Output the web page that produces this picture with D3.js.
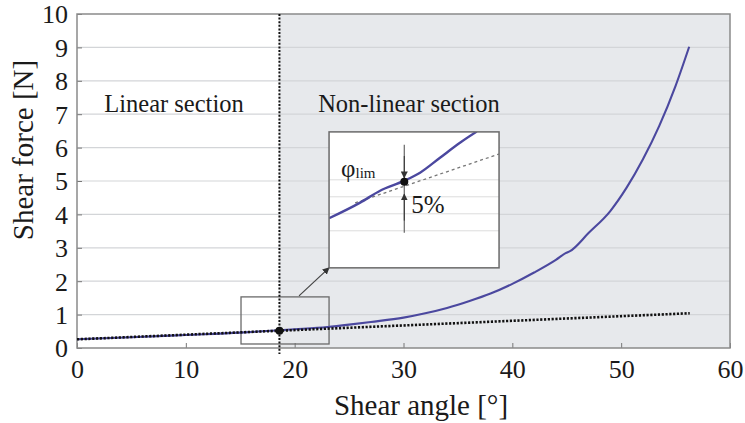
<!DOCTYPE html>
<html>
<head>
<meta charset="utf-8">
<script src="https://cdn.jsdelivr.net/npm/d3@7"></script>
<style>
  html, body { margin: 0; padding: 0; background: #fff; }
  svg { display: block; }
  text { font-family: "Liberation Serif", "Times New Roman", serif; fill: #1a1a1a; }
</style>
</head>
<body>
<svg id="chart" width="745" height="423"></svg>
<script>
// ---------- data ----------
const xTicks = [0, 10, 20, 30, 40, 50, 60];
const yTicks = [0, 1, 2, 3, 4, 5, 6, 7, 8, 9, 10];

// measured shear force curve
const curveAngle = [0, 5, 10, 15, 18.6, 20, 23, 25, 27, 30, 32, 34, 36, 38, 40, 42, 44, 44.9, 45.3, 47, 49, 50.5, 52, 53.5, 55, 56.25];
const curveForce = [0.26, 0.32, 0.39, 0.46, 0.53, 0.56, 0.63, 0.70, 0.78, 0.91, 1.04, 1.20, 1.40, 1.63, 1.92, 2.26, 2.64, 2.84, 2.90, 3.44, 4.10, 4.80, 5.65, 6.65, 7.85, 9.02];

// linear extrapolation (dotted)
const linearAngle = [0, 56.3];
const linearForce = [0.26, 1.04];

// limit angle
const phiLim = 18.6;
const phiLimForce = 0.52;

// zoom window (data coordinates of the main chart)
const zoomAngle = [15.07, 23.16];
const zoomForce = [0.12, 1.53];

// inset frame location (in main chart data coordinates)
const insetAngle = [23.16, 38.78];
const insetForce = [2.40, 6.47];

// inset content (schematic, own scale)
const insetYDomain = [0.291, 0.691];
const insetGrid = [0.40, 0.45, 0.50, 0.55];
const insetCurveAngle = [15.07, 16.55, 17.5, 18.6, 19.4, 20.35, 21.3, 22.1];
const insetCurveValue = [0.437, 0.483, 0.518, 0.546, 0.571, 0.615, 0.659, 0.692];
const insetLineAngle = [16.31, 23.16];
const insetLineValue = [0.482, 0.626];
const insetPointAngle = 18.65;
const insetPointValue = 0.544;
const insetBarValue = [0.653, 0.394];
const insetArrowTop = [0.62, 0.556];   // from, to
const insetArrowBottom = [0.43, 0.508];

// ---------- drawing ----------
const svg = d3.select("#chart");
const x = d3.scaleLinear().domain([0, 60]).range([77, 730]);
const y = d3.scaleLinear().domain([0, 10]).range([348, 14]);

const curveColor = "#4b489f";

// background shading for the non-linear region
svg.append("rect")
  .attr("x", x(phiLim)).attr("y", y(10))
  .attr("width", x(60) - x(phiLim)).attr("height", y(0) - y(10))
  .attr("fill", "#e7e9ec");

// gridlines
svg.append("g").selectAll("line").data(yTicks.filter(d => d > 0 && d < 10)).join("line")
  .attr("x1", x(0)).attr("x2", x(60))
  .attr("y1", d => y(d)).attr("y2", d => y(d))
  .attr("stroke", "#d3d5d8").attr("stroke-width", 1.2);

// axes (ticks inside)
const yAxis = d3.axisLeft(y).tickValues(yTicks).tickSize(-5).tickPadding(9).tickFormat(d3.format("d"));
const gy = svg.append("g").attr("transform", `translate(${x(0)},0)`).call(yAxis);
const xAxis = d3.axisBottom(x).tickValues(xTicks).tickSize(-5).tickPadding(12).tickFormat(d3.format("d"));
const gx = svg.append("g").attr("transform", `translate(0,${y(0)})`).call(xAxis);
[gx, gy].forEach(g => {
  g.select(".domain").remove();
  g.selectAll(".tick line").attr("stroke", "#777").attr("stroke-width", 1);
  g.selectAll(".tick text").attr("font-size", 26).attr("font-family", "Liberation Serif").attr("fill", "#1a1a1a");
});
gy.selectAll(".tick text").attr("dy", "0.34em");
gx.selectAll(".tick text").attr("dy", "0.71em");

// plot frame
svg.append("rect")
  .attr("x", x(0)).attr("y", y(10))
  .attr("width", x(60) - x(0)).attr("height", y(0) - y(10))
  .attr("fill", "none").attr("stroke", "#8a8a8a").attr("stroke-width", 1.5);

// zoom window
svg.append("rect")
  .attr("x", x(zoomAngle[0])).attr("y", y(zoomForce[1]))
  .attr("width", x(zoomAngle[1]) - x(zoomAngle[0])).attr("height", y(zoomForce[0]) - y(zoomForce[1]))
  .attr("fill", "none").attr("stroke", "#6a6a6a").attr("stroke-width", 1.3);

// measured curve
const line = d3.line().x(d => x(d[0])).y(d => y(d[1])).curve(d3.curveMonotoneX);
svg.append("path")
  .datum(curveAngle.map((a, i) => [a, curveForce[i]]))
  .attr("d", line)
  .attr("fill", "none").attr("stroke", curveColor).attr("stroke-width", 2.1);

// linear dotted line
svg.append("path")
  .datum(linearAngle.map((a, i) => [a, linearForce[i]]))
  .attr("d", d3.line().x(d => x(d[0])).y(d => y(d[1])))
  .attr("fill", "none").attr("stroke", "#111").attr("stroke-width", 2.6)
  .attr("stroke-dasharray", "2.2,1.6");

// vertical limit line
svg.append("line")
  .attr("x1", x(phiLim)).attr("x2", x(phiLim))
  .attr("y1", y(10)).attr("y2", y(0) + 6)
  .attr("stroke", "#111").attr("stroke-width", 2)
  .attr("stroke-dasharray", "2,1.6");

// limit point
svg.append("circle")
  .attr("cx", x(phiLim)).attr("cy", y(phiLimForce)).attr("r", 4)
  .attr("fill", "#111");

// arrow markers
const defs = svg.append("defs");
defs.append("marker").attr("id", "ah").attr("viewBox", "0 0 10 10")
  .attr("refX", 9).attr("refY", 5).attr("markerWidth", 7).attr("markerHeight", 7)
  .attr("markerUnits", "userSpaceOnUse").attr("orient", "auto")
  .append("path").attr("d", "M0,0 L10,5 L0,10 z").attr("fill", "#333");

// connector arrow from zoom window to inset
svg.append("line")
  .attr("x1", x(zoomAngle[0]) + 58).attr("y1", y(zoomForce[1]) - 1)
  .attr("x2", x(insetAngle[0])).attr("y2", y(insetForce[0]))
  .attr("stroke", "#444").attr("stroke-width", 1.2)
  .attr("marker-end", "url(#ah)");

// inset
const ix = d3.scaleLinear().domain(zoomAngle).range([x(insetAngle[0]), x(insetAngle[1])]);
const iy = d3.scaleLinear().domain(insetYDomain).range([y(insetForce[0]), y(insetForce[1])]);

svg.append("clipPath").attr("id", "insetClip").append("rect")
  .attr("x", ix.range()[0]).attr("y", iy.range()[1])
  .attr("width", ix.range()[1] - ix.range()[0]).attr("height", iy.range()[0] - iy.range()[1]);

svg.append("rect")
  .attr("x", ix.range()[0]).attr("y", iy.range()[1])
  .attr("width", ix.range()[1] - ix.range()[0]).attr("height", iy.range()[0] - iy.range()[1])
  .attr("fill", "#fff");

const inset = svg.append("g").attr("clip-path", "url(#insetClip)");
inset.selectAll("line.grid").data(insetGrid).join("line").attr("class", "grid")
  .attr("x1", ix.range()[0]).attr("x2", ix.range()[1])
  .attr("y1", d => iy(d)).attr("y2", d => iy(d))
  .attr("stroke", "#dcdcdc").attr("stroke-width", 1);

inset.append("path")
  .datum(insetLineAngle.map((a, i) => [a, insetLineValue[i]]))
  .attr("d", d3.line().x(d => ix(d[0])).y(d => iy(d[1])))
  .attr("fill", "none").attr("stroke", "#777").attr("stroke-width", 1.3)
  .attr("stroke-dasharray", "3,3");

inset.append("path")
  .datum(insetCurveAngle.map((a, i) => [a, insetCurveValue[i]]))
  .attr("d", d3.line().x(d => ix(d[0])).y(d => iy(d[1])).curve(d3.curveMonotoneX))
  .attr("fill", "none").attr("stroke", curveColor).attr("stroke-width", 2.4);

// 5% bar
inset.append("line")
  .attr("x1", ix(insetPointAngle)).attr("x2", ix(insetPointAngle))
  .attr("y1", iy(insetBarValue[0])).attr("y2", iy(insetBarValue[1]))
  .attr("stroke", "#666").attr("stroke-width", 1.2);
[insetArrowTop, insetArrowBottom].forEach(v => {
  inset.append("line")
    .attr("x1", ix(insetPointAngle)).attr("x2", ix(insetPointAngle))
    .attr("y1", iy(v[0])).attr("y2", iy(v[1]))
    .attr("stroke", "#333").attr("stroke-width", 1)
    .attr("marker-end", "url(#ah)");
});

inset.append("circle")
  .attr("cx", ix(insetPointAngle)).attr("cy", iy(insetPointValue)).attr("r", 4)
  .attr("fill", "#111");

svg.append("rect")
  .attr("x", ix.range()[0]).attr("y", iy.range()[1])
  .attr("width", ix.range()[1] - ix.range()[0]).attr("height", iy.range()[0] - iy.range()[1])
  .attr("fill", "none").attr("stroke", "#6a6a6a").attr("stroke-width", 1.5);

// inset labels
const phiText = svg.append("text")
  .attr("x", ix.range()[0] + 12).attr("y", iy(insetPointValue) - 5)
  .attr("font-size", 25);
phiText.append("tspan").text("φ");
phiText.append("tspan").text("lim").attr("font-size", 15).attr("dy", 1);

svg.append("text")
  .attr("x", ix(insetPointAngle) + 7).attr("y", iy(insetPointValue) + 31)
  .attr("font-size", 25).text("5%");

// section labels
svg.append("text").attr("x", 174).attr("y", 112)
  .attr("text-anchor", "middle").attr("font-size", 24.5).text("Linear section");
svg.append("text").attr("x", 409).attr("y", 112)
  .attr("text-anchor", "middle").attr("font-size", 24.5).text("Non-linear section");

// axis titles
svg.append("text").attr("x", 421).attr("y", 415)
  .attr("text-anchor", "middle").attr("font-size", 29).text("Shear angle [°]");
svg.append("text")
  .attr("transform", `translate(33,150) rotate(-90)`)
  .attr("text-anchor", "middle").attr("font-size", 29).text("Shear force [N]");
</script>
</body>
</html>
